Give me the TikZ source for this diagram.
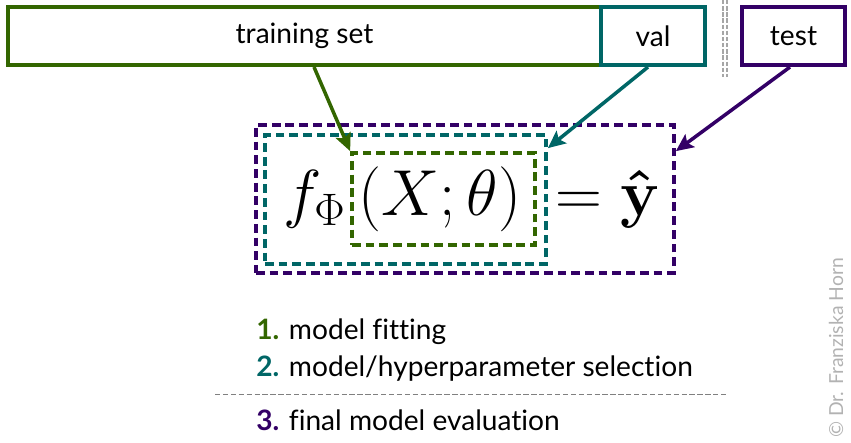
\documentclass[tikz,border=0pt]{standalone}
\usepackage{fix-cm}
\usepackage{bm}
\usepackage[no-math]{fontspec}
\setmainfont{Lato}[Ligatures=NoCommon]
\usetikzlibrary{calc}
\usetikzlibrary{arrows.meta}
\definecolor{trgreen}{HTML}{336600}
\definecolor{valteal}{HTML}{006666}
\definecolor{tstpurple}{HTML}{330066}
\tikzset{
  setbox/.style={draw, line width=2.3pt, minimum height=1.16cm, inner sep=0pt, font=\fontsize{16}{19}\selectfont},
  dashbox/.style={draw, line width=2.1pt, dash pattern=on 5pt off 2.8pt, inner sep=0pt},
  arr/.style={line width=2pt, -{Stealth[length=10pt, width=9pt, inset=2pt]}},
  formula/.style={inner sep=0pt, font=\fontsize{37}{42}\selectfont},
  step label/.style={anchor=base west, inner sep=0pt, font=\fontsize{16}{19}\selectfont}
}

\begin{document}
\begin{tikzpicture}
\useasboundingbox (0,0) rectangle (17.02,8.86);
% data split boxes
\node[setbox, trgreen, minimum width=11.86cm, text=black] (train) at (6.09,8.14) {training set};
\node[setbox, valteal, minimum width=2.08cm, text=black] (val) at (13.06,8.14) {val};
\node[setbox, tstpurple, minimum width=2.06cm, text=black] (test) at (15.87,8.14) {test};
\draw[gray!70, line width=0.7pt, dash pattern=on 2.5pt off 1pt] (14.46,8.86) -- (14.46,7.32);
\draw[gray!70, line width=0.7pt, dash pattern=on 2.5pt off 1pt] (14.54,8.86) -- (14.54,7.32);

% nested boxes round the formula
\node[dashbox, tstpurple, minimum width=8.36cm, minimum height=2.96cm] (tstbox) at (9.30,4.88) {};
\node[dashbox, valteal, minimum width=5.62cm, minimum height=2.58cm] (valbox) at (8.11,4.87) {};
\node[dashbox, trgreen, minimum width=3.66cm, minimum height=1.84cm] (trbox) at (8.87,4.88) {};
\node[formula, anchor=base] (args) at (8.80,4.54) {$(X;\theta)$};
\node[formula, anchor=base east] (fphi) at (6.92,4.54) {$f_\Phi$};
\node[formula, anchor=base west] (yhat) at (11.10,4.54) {$=\bm{\hat{\mathbf{y}}}$};

\draw[arr, trgreen] ($(train.south)+(0.19,0)$) -- (trbox.north west);
\draw[arr, valteal] ($(val.south)+(-0.1,0)$) -- ($(valbox.north east)+(0,-0.3)$);
\draw[arr, tstpurple] ($(test.south)+(-0.07,0)$) -- ($(tstbox.north east)+(0,-0.56)$);

% legend
\node[step label] (s1) at (5.12,2.06) {\textbf{\color{trgreen}1.} model fitting};
\node[step label] (s2) at (5.12,1.32) {\textbf{\color{valteal}2.} model/hyperparameter selection};
\draw[gray, line width=0.5pt, dash pattern=on 3pt off 1.5pt] (4.30,0.98) -- (14.54,0.98);
\node[step label] (s3) at (5.12,0.24) {\textbf{\color{tstpurple}3.} final model evaluation};

\node[rotate=90, text=gray!60, inner sep=0pt, font=\fontsize{11}{13}\selectfont] (copy) at (16.72,1.90) {\textcopyright\ Dr. Franziska Horn};
\end{tikzpicture}
\end{document}
